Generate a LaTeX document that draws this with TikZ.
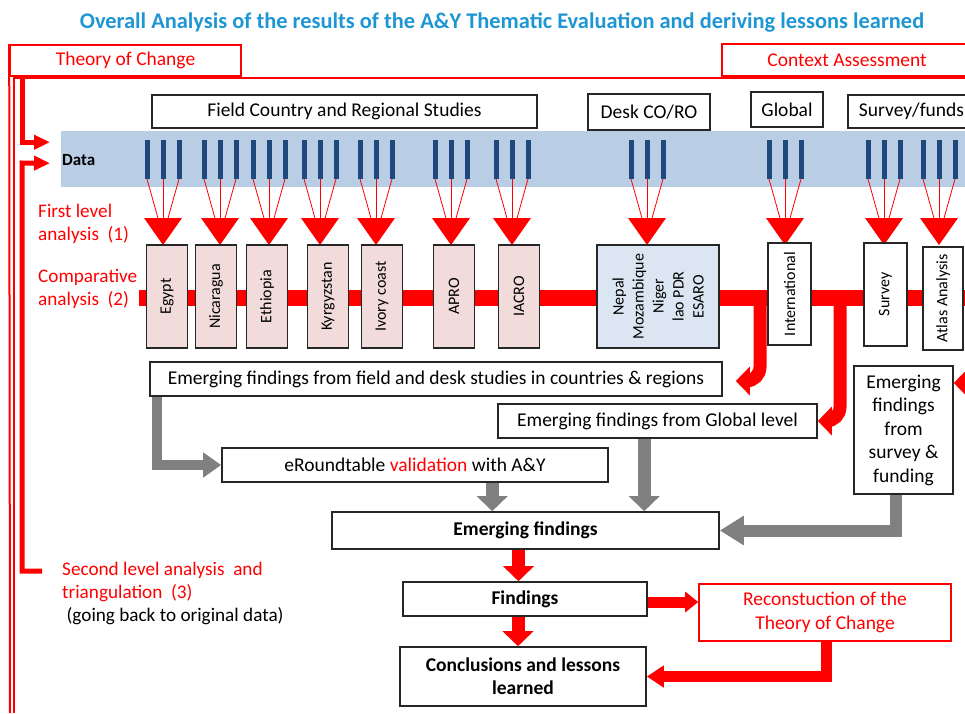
\documentclass[tikz,border=0pt]{standalone}
\usepackage{fontspec}
\setmainfont{Carlito}
\usetikzlibrary{arrows.meta,calc}

\definecolor{titleblue}{RGB}{30,150,212}
\definecolor{bandblue}{RGB}{185,205,228}
\definecolor{barblue}{RGB}{31,73,125}
\definecolor{studypink}{RGB}{242,220,219}
\definecolor{deskblue}{RGB}{220,230,242}
\definecolor{flowgray}{RGB}{128,128,128}

\tikzset{
  box/.style={draw=black!85,line width=1.6pt,fill=white,inner sep=0pt,align=center,
    font=\fontsize{19.5}{23.5}\selectfont},
  boldbox/.style={box,font=\bfseries\fontsize{19.5}{23}\selectfont},
  redbox/.style={box,draw=red,text=red},
  study/.style={box,rotate=90,fill=studypink,font=\fontsize{16}{20}\selectfont},
  redlabel/.style={text=red,align=left,inner sep=0pt,font=\fontsize{19.2}{23}\selectfont},
  redarr/.style={red,line width=13pt,-{Triangle[width=30pt,length=15pt]}},
  grayarr/.style={flowgray,line width=13pt,-{Triangle[width=30pt,length=15pt]}},
  branch/.style={red,line width=13pt,rounded corners=14pt,-{Triangle[width=28pt,length=14pt]}},
  tocarr/.style={red,line width=5pt,-{Triangle[width=14pt,length=16pt]}},
}

\begin{document}
\begin{tikzpicture}[x=1pt,y=-1pt]
\useasboundingbox (0,0) rectangle (965,713);
\clip (0,0) rectangle (965,713);

% title
\node[text=titleblue,font=\bfseries\fontsize{22.4}{25}\selectfont] (title) at (502,23)
  {Overall Analysis of the results of the A\&Y Thematic Evaluation and deriving lessons learned};

% theory of change / context frame
\node[redbox,minimum width=231pt,minimum height=31pt] (toc) at (125.5,60.5) {Theory of Change};
\node[redbox,minimum width=250pt,minimum height=32pt] (context) at (847,60) {Context Assessment};
\draw[red,line width=2pt] (toc.north west) -- (10,713);
\draw[red,line width=2pt] (14,713) -- (14,78) -- (965,78);

% data band
\node[fill=bandblue,inner sep=0pt,minimum width=904pt,minimum height=56pt,anchor=north west] (band) at (61,131) {};
\node[anchor=west,inner sep=0pt,font=\bfseries\fontsize{17}{20}\selectfont] (datalbl) at (62,160) {Data};
\draw[tocarr] (22,78) |- ($(band.west)+(-11,-17)$);
\draw[tocarr] (42,571) -| (22,163) -- ($(band.west)+(-11,4)$);

% sources
\node[box,minimum width=385pt,minimum height=33pt] (field) at (344.5,111.5) {Field Country and Regional Studies};
\node[box,minimum width=122pt,minimum height=36pt] (desk) at (649,112) {Desk CO/RO};
\node[box,minimum width=72pt,minimum height=35pt] (global) at (787,109.5) {Global};
\node[box,minimum width=127pt,minimum height=33pt] (surveyfunds) at (911.5,111.5) {Survey/funds};

% data streams -> first level analysis
\foreach \cx in {163,220,269,320,376,451,512,647,785,884,939} {
  \foreach \dx in {-16,0,16} {
    \draw[barblue,line width=5pt] (\cx+\dx,140) -- (\cx+\dx,179);
    \draw[red,line width=0.8pt] (\cx+\dx,179) -- (\cx,236);
  }
  \fill[red] (\cx-19,218) -- (\cx+19,218) -- (\cx,245) -- cycle;
}

% comparative analysis line
\draw[red,line width=16pt] (139,298) -- (965,298);
\coordinate (split1) at (760,298);
\coordinate (split2) at (840,298);
\coordinate (split3) at (990,383);

% studies
\foreach \nm/\cx/\txt in {egypt/167/Egypt,nicaragua/216/Nicaragua,ethiopia/267/Ethiopia,
    kyrgyzstan/328/Kyrgyzstan,ivory/382/Ivory coast,apro/454/APRO,iacro/519/IACRO}
  \node[study,minimum width=103pt,minimum height=41pt] (\nm) at (\cx,296.5) {\txt};
\node[study,fill=deskblue,minimum width=103pt,minimum height=122pt] (desks) at (658,296.5)
  {Nepal\\Mozambique\\Niger\\lao PDR\\ESARO};
\node[study,fill=white,minimum width=102pt,minimum height=43pt] (intl) at (789.5,294) {International};
\node[study,fill=white,minimum width=103pt,minimum height=43pt] (survey) at (885.5,294.5) {Survey};
\node[study,fill=white,minimum width=103pt,minimum height=40pt] (atlas) at (943,298.5) {Atlas Analysis};

% emerging findings
\node[box,minimum width=572pt,minimum height=34pt] (fieldfind) at (436,379)
  {Emerging findings from field and desk studies in countries \& regions};
\node[box,minimum width=319pt,minimum height=34pt] (globalfind) at (657.5,421)
  {Emerging findings from Global level};
\node[box,minimum width=99pt,minimum height=128pt] (surveyfind) at (903.5,430)
  {Emerging\\findings\\from\\survey \&\\funding};
\node[box,minimum width=386pt,minimum height=34pt] (roundtable) at (415,465)
  {eRoundtable \textcolor{red}{validation} with A\&Y};
\node[boldbox,minimum width=387pt,minimum height=37pt] (emerging) at (525.5,530.5) {Emerging findings};
\node[boldbox,minimum width=244pt,minimum height=34pt] (findings) at (525,599) {Findings};
\node[boldbox,minimum width=246pt,minimum height=59pt] (conclusions) at (523,676.5)
  {Conclusions and lessons\\learned};
\node[redbox,minimum width=252pt,minimum height=57pt] (recon) at (825,612.5)
  {Reconstuction of the\\Theory of Change};

% red branches from comparative analysis
\draw[branch] (split1) |- ($(fieldfind.east)+(13,2)$);
\draw[branch] (split2) |- (globalfind.east);
\draw[branch] (split3) -- (split3 -| surveyfind.east);

% gray flows
\draw[grayarr,line width=10pt,-{Triangle[width=24pt,length=18pt]}]
  ($(fieldfind.south west)+(8,0)$) |- (roundtable.west);
\draw[grayarr] ($(roundtable.south west)+(271,0)$) coordinate (g2) -- (g2 |- emerging.north);
\draw[grayarr] ($(globalfind.south west)+(147,0)$) coordinate (g3) -- (g3 |- emerging.north);
\draw[grayarr,line width=12pt,-{Triangle[width=28pt,length=24pt]}]
  ($(surveyfind.south west)+(43,0)$) |- (emerging.east);

% red flows
\draw[redarr] ($(emerging.south)+(-7,0)$) coordinate (r1) -- (r1 |- findings.north);
\draw[redarr] ($(findings.south)+(-7,0)$) coordinate (r2) -- (r2 |- conclusions.north);
\draw[redarr,line width=11pt,-{Triangle[width=20pt,length=13pt]}]
  ($(findings.east)+(0,3)$) coordinate (r3) -- (r3 -| recon.west);
\draw[redarr,line width=11pt,-{Triangle[width=21pt,length=17pt]}]
  ($(recon.south west)+(128,0)$) |- (conclusions.east);

% level labels
\node[redlabel,anchor=west] (firstlvl) at (38,224) {First level\\analysis\ \ (1)};
\node[redlabel,anchor=west] (comparelbl) at (38,288.5) {Comparative\\analysis\ \ (2)};
\node[redlabel,anchor=west] (secondlvl) at (62,593)
  {Second level analysis\ \ and\\triangulation\ \ (3)\\\textcolor{black}{\ (going back to original data)}};
\end{tikzpicture}
\end{document}
